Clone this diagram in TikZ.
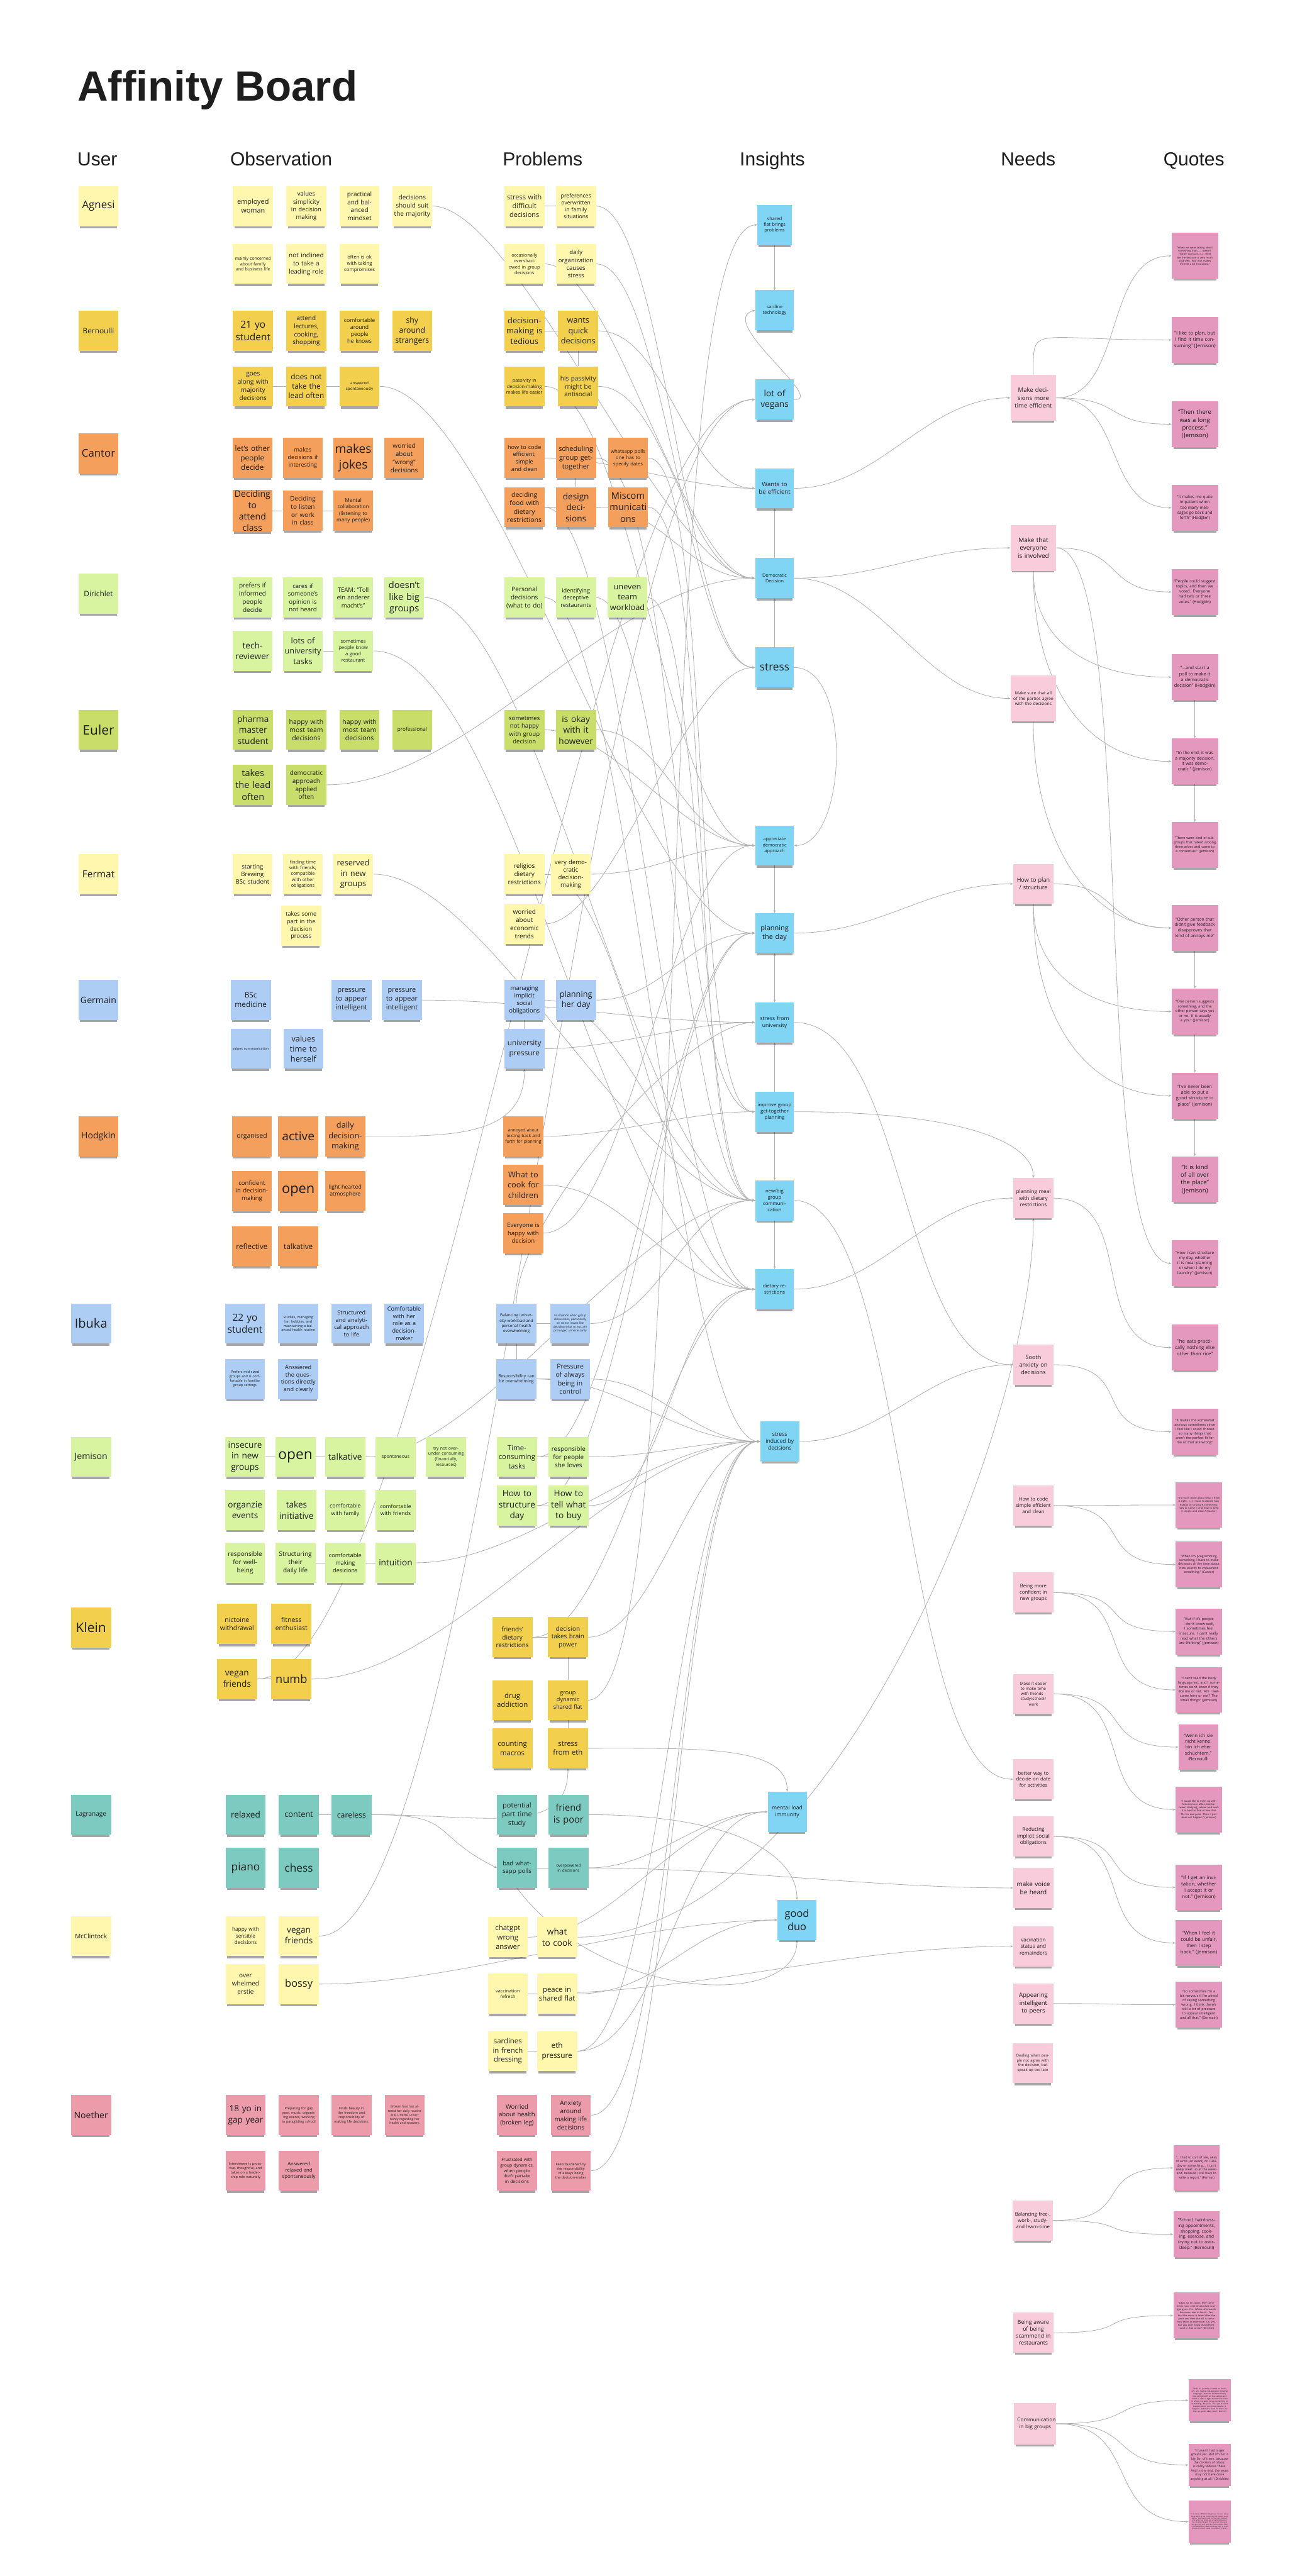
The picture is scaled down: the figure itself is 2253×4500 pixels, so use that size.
\documentclass[tikz,border=0pt]{standalone}
\usepackage{fontspec}
\setmainfont{Open Sans}
\newfontfamily\headfont{Liberation Sans}
\usetikzlibrary{arrows.meta,shadows,backgrounds}

\definecolor{paleY}{HTML}{FFF7AE}
\definecolor{goldY}{HTML}{F2D04E}
\definecolor{orng}{HTML}{F4A05C}
\definecolor{paleG}{HTML}{D8F4A1}
\definecolor{oliveG}{HTML}{C8DD6A}
\definecolor{skyB}{HTML}{ADCDF4}
\definecolor{turq}{HTML}{7CCAC0}
\definecolor{roseP}{HTML}{EB9BAA}
\definecolor{insC}{HTML}{80D5F5}
\definecolor{needC}{HTML}{F9CCDC}
\definecolor{quoteC}{HTML}{E598BE}
\definecolor{wire}{HTML}{B0B0B0}
\definecolor{ink}{HTML}{1E1E1E}

\newcommand\nfs[1]{\fontsize{#1}{\fpeval{1.28*#1}}\selectfont}

\tikzset{
  note/.style={minimum width=70pt, minimum height=70pt, text width=64pt, inner sep=1pt,
    align=center, text=ink,
    drop shadow={shadow xshift=0pt, shadow yshift=-7pt, shadow scale=0.92, opacity=0.35, fill=black}},
  fs/.style={font=\nfs{#1}},
  stPaleY/.style={note, fill=paleY},
  stGold/.style={note, fill=goldY},
  stOrange/.style={note, fill=orng},
  stPaleG/.style={note, fill=paleG},
  stOlive/.style={note, fill=oliveG},
  stSky/.style={note, fill=skyB},
  stTurq/.style={note, fill=turq},
  stRose/.style={note, fill=roseP},
  insight/.style={note, fill=insC, minimum width=68pt, text width=62pt},
  need/.style={note, fill=needC, text width=62pt},
  bigneed/.style={need, minimum width=80pt, minimum height=80pt, text width=72pt},
  quote/.style={note, fill=quoteC, minimum width=81pt, minimum height=80pt, text width=74pt},
  hdr/.style={anchor=base west, inner sep=0pt, font=\headfont\fontsize{33}{36}\selectfont, text=ink},
  link/.style={draw=wire, line width=0.9pt},
  arr/.style={link, -{Stealth[length=5pt,width=4pt]}},
  hcurve/.style={to path={.. controls +(#1,0) and +(-#1,0) .. (\tikztotarget) \tikztonodes}},
  hcurve/.default=100,
  vcurve/.style={to path={.. controls +(0,#1) and +(0,-#1) .. (\tikztotarget) \tikztonodes}},
  vcurve/.default=30
}

\begin{document}
\begin{tikzpicture}[x=1pt, y=-1pt]
\path[use as bounding box] (0,0) rectangle (2253,4500);

\node[anchor=base west, inner sep=0pt, font=\headfont\bfseries\fontsize{74}{80}\selectfont, text=ink] (title) at (135,176) {Affinity Board};
\node[hdr] (hUser) at (135,290) {User};
\node[hdr] (hObs) at (402,290) {Observation};
\node[hdr] (hProb) at (878,290) {Problems};
\node[hdr] (hIns) at (1292,290) {Insights};
\node[hdr] (hNeed) at (1748,290) {Needs};
\node[hdr] (hQuote) at (2032,290) {Quotes};

% Agnesi
\node[stPaleY, fs=18.5] (uAg) at (172,360) {Agnesi};
\node[stPaleY, fs=12] (agO1) at (442,360) {employed woman};
\node[stPaleY, fs=10.5] (agO2) at (535,360) {values simplicity in decision making};
\node[stPaleY, fs=11] (agO3) at (628,360) {practical and balanced mindset};
\node[stPaleY, fs=11] (agO4) at (720,360) {decisions should suit the majority};
\node[stPaleY, fs=7.5] (agO5) at (442,461) {mainly concerned about family and business life};
\node[stPaleY, fs=11] (agO6) at (535,461) {not inclined to take a leading role};
\node[stPaleY, fs=8.5] (agO7) at (628,461) {often is ok with taking compromises};
\node[stPaleY, fs=12] (agP1) at (916,360) {stress with difficult decisions};
\node[stPaleY, fs=9.5] (agP2) at (1006,360) {preferences overwritten in family situations};
\node[stPaleY, fs=8] (agP3) at (916,461) {occasionally overshadowed in group decisions};
\node[stPaleY, fs=10.5] (agP4) at (1006,461) {daily organization causes stress};

% Bernoulli
\node[stGold, fs=13] (uBe) at (172,578) {Bernoulli};
\node[stGold, fs=17] (beO1) at (442,578) {21 yo student};
\node[stGold, fs=11] (beO2) at (535,578) {attend lectures, cooking, shopping};
\node[stGold, fs=9.5] (beO3) at (628,578) {comfortable around people he knows};
\node[stGold, fs=13.5] (beO4) at (720,578) {shy around strangers};
\node[stGold, fs=11] (beO5) at (442,675) {goes along with majority decisions};
\node[stGold, fs=13] (beO6) at (535,675) {does not take the lead often};
\node[stGold, fs=7] (beO7) at (628,675) {answered spontaneously};
\node[stGold, fs=14] (beP1) at (916,578) {decision-making is tedious};
\node[stGold, fs=14] (beP2) at (1010,578) {wants quick decisions};
\node[stGold, fs=8] (beP3) at (916,675) {passivity in decision-making makes life easier};
\node[stGold, fs=11] (beP4) at (1010,675) {his passivity might be antisocial};

% Cantor
\node[stOrange, fs=18.5] (uCa) at (172,792) {Cantor};
\node[stOrange, fs=13] (caO1) at (441,800) {let's other people decide};
\node[stOrange, fs=10] (caO2) at (529,800) {makes decisions if interesting};
\node[stOrange, fs=21] (caO3) at (617,800) {makes jokes};
\node[stOrange, fs=11] (caO4) at (706,800) {worried about “wrong” decisions};
\node[stOrange, fs=15.5] (caO5) at (441,892) {Deciding to attend class};
\node[stOrange, fs=11] (caO6) at (529,892) {Deciding to listen or work in class};
\node[stOrange, fs=9] (caO7) at (617,892) {Mental collaboration (listening to many people)};
\node[stOrange, fs=10] (caP1) at (916,800) {how to code efficient, simple and clean};
\node[stOrange, fs=12] (caP2) at (1006,800) {scheduling group get-together};
\node[stOrange, fs=8.5] (caP3) at (1097,800) {whatsapp polls one has to specify dates};
\node[stOrange, fs=11.5] (caP4) at (916,886) {deciding food with dietary restrictions};
\node[stOrange, fs=15] (caP5) at (1006,886) {design decisions};
\node[stOrange, fs=16] (caP6) at (1097,886) {Miscom\\municati\\ons};

% Dirichlet
\node[stPaleG, fs=13] (uDi) at (172,1037) {Dirichlet};
\node[stPaleG, fs=11] (diO1) at (441,1044) {prefers if informed people decide};
\node[stPaleG, fs=10.5] (diO2) at (529,1044) {cares if someone's opinion is not heard};
\node[stPaleG, fs=10.5] (diO3) at (617,1044) {TEAM: "Toll ein anderer macht's"};
\node[stPaleG, fs=16] (diO4) at (706,1044) {doesn't like big groups};
\node[stPaleG, fs=15] (diO5) at (441,1137) {tech-\\reviewer};
\node[stPaleG, fs=14] (diO6) at (529,1137) {lots of university tasks};
\node[stPaleG, fs=8.5] (diO7) at (617,1137) {sometimes people know a good restaurant};
\node[stPaleG, fs=11] (diP1) at (916,1044) {Personal decisions (what to do)};
\node[stPaleG, fs=10] (diP2) at (1006,1044) {identifying deceptive restaurants};
\node[stPaleG, fs=14] (diP3) at (1096,1044) {uneven team workload};

% Euler
\node[stOlive, fs=23] (uEu) at (172,1275) {Euler};
\node[stOlive, fs=15] (euO1) at (442,1275) {pharma master student};
\node[stOlive, fs=11.5] (euO2) at (535,1275) {happy with most team decisions};
\node[stOlive, fs=11.5] (euO3) at (628,1275) {happy with most team decisions};
\node[stOlive, fs=9] (euO4) at (720,1275) {professional};
\node[stOlive, fs=16] (euO5) at (442,1371) {takes the lead often};
\node[stOlive, fs=11] (euO6) at (535,1371) {democratic approach applied often};
\node[stOlive, fs=10.5] (euP1) at (916,1275) {sometimes not happy with group decision};
\node[stOlive, fs=15] (euP2) at (1006,1275) {is okay with it however};

% Fermat
\node[stPaleY, fs=17] (uFe) at (172,1527) {Fermat};
\node[stPaleY, fs=10.5] (feO1) at (441,1527) {starting Brewing BSc student};
\node[stPaleY, fs=8] (feO2) at (529,1527) {finding time with friends, compatible with other obligations};
\node[stPaleY, fs=14] (feO3) at (617,1527) {reserved in new groups};
\node[stPaleY, fs=10] (feO4) at (526,1617) {takes some part in the decision process};
\node[stPaleY, fs=11] (feP1) at (916,1527) {religios dietary restrictions};
\node[stPaleY, fs=10.5] (feP2) at (997,1527) {very democratic decision-making};
\node[stPaleY, fs=11] (feP3) at (916,1614) {worried about economic trends};

% Germain
\node[stSky, fs=15.5] (uGe) at (172,1747) {Germain};
\node[stSky, fs=13] (geO1) at (438,1747) {BSc medicine};
\node[stSky, fs=12] (geO2) at (614,1747) {pressure to appear intelligent};
\node[stSky, fs=12] (geO3) at (702,1747) {pressure to appear intelligent};
\node[stSky, fs=6] (geO4) at (438,1832) {values communication};
\node[stSky, fs=14] (geO5) at (530,1832) {values time to herself};
\node[stSky, fs=10.5] (geP1) at (916,1747) {managing implicit social obligations};
\node[stSky, fs=14] (geP2) at (1006,1747) {planning her day};
\node[stSky, fs=13] (geP3) at (916,1832) {university pressure};

% Hodgkin
\node[stOrange, fs=15.5] (uHo) at (172,1985) {Hodgkin};
\node[stOrange, fs=11.5] (hoO1) at (440,1985) {organised};
\node[stOrange, fs=21] (hoO2) at (521,1985) {active};
\node[stOrange, fs=14] (hoO3) at (603,1985) {daily decision-making};
\node[stOrange, fs=10.5] (hoO4) at (440,2081) {confident in decision-making};
\node[stOrange, fs=24] (hoO5) at (521,2081) {open};
\node[stOrange, fs=9.5] (hoO6) at (603,2081) {light-hearted atmosphere};
\node[stOrange, fs=13] (hoO7) at (440,2177) {reflective};
\node[stOrange, fs=13] (hoO8) at (521,2177) {talkative};
\node[stOrange, fs=7.5] (hoP1) at (914,1985) {annoyed about texting back and forth for planning};
\node[stOrange, fs=14] (hoP2) at (914,2070) {What to cook for children};
\node[stOrange, fs=10.5] (hoP3) at (914,2154) {Everyone is happy with decision};

% Ibuka
\node[stSky, fs=22] (uIb) at (159,2312) {Ibuka};
\node[stSky, fs=17] (ibO1) at (428,2312) {22 yo student};
\node[stSky, fs=6] (ibO2) at (521,2312) {Studies, managing her hobbies, and maintaining a balanced health routine};
\node[stSky, fs=10] (ibO3) at (614,2312) {Structured and analytical approach to life};
\node[stSky, fs=10] (ibO4) at (706,2312) {Comfortable with her role as a decision-maker};
\node[stSky, fs=6] (ibO5) at (428,2409) {Prefers mid-sized groups and is comfortable in familiar group settings};
\node[stSky, fs=10] (ibO6) at (521,2409) {Answered the questions directly and clearly};
\node[stSky, fs=7] (ibP1) at (902,2312) {Balancing university workload and personal health overwhelming};
\node[stSky, fs=5] (ibP2) at (996,2312) {Frustration when group discussions, particularly on minor issues like deciding what to eat, are prolonged unnecessarily};
\node[stSky, fs=7.5] (ibP3) at (902,2409) {Responsibility can be overwhelming};
\node[stSky, fs=11.5] (ibP4) at (996,2409) {Pressure of always being in control};

% Jemison
\node[stPaleG, fs=15.5] (uJe) at (159,2545) {Jemison};
\node[stPaleG, fs=15] (jeO1) at (428,2545) {insecure in new groups};
\node[stPaleG, fs=25] (jeO2) at (516,2545) {open};
\node[stPaleG, fs=15] (jeO3) at (603,2545) {talkative};
\node[stPaleG, fs=8] (jeO4) at (691,2545) {spontaneous};
\node[stPaleG, fs=7.5] (jeO5) at (779,2545) {try not over-under consuming (financially, resources)};
\node[stPaleG, fs=15] (jeO6) at (428,2638) {organzie events};
\node[stPaleG, fs=15] (jeO7) at (518,2638) {takes initiative};
\node[stPaleG, fs=9.5] (jeO8) at (603,2638) {comfortable with family};
\node[stPaleG, fs=9.5] (jeO9) at (691,2638) {comfortable with friends};
\node[stPaleG, fs=11] (jeO10) at (428,2730) {responsible for well-being};
\node[stPaleG, fs=11] (jeO11) at (516,2730) {Structuring their daily life};
\node[stPaleG, fs=10] (jeO12) at (603,2730) {comfortable making desicions};
\node[stPaleG, fs=15] (jeO13) at (691,2730) {intuition};
\node[stPaleG, fs=12.5] (jeP1) at (903,2545) {Time-consuming tasks};
\node[stPaleG, fs=11] (jeP2) at (993,2545) {responsible for people she loves};
\node[stPaleG, fs=15] (jeP3) at (903,2630) {How to structure day};
\node[stPaleG, fs=15] (jeP4) at (993,2630) {How to tell what to buy};

% Klein
\node[stGold, fs=23] (uKl) at (159,2843) {Klein};
\node[stGold, fs=11.5] (klO1) at (414,2837) {nictoine withdrawal};
\node[stGold, fs=11.5] (klO2) at (509,2837) {fitness enthusiast};
\node[stGold, fs=15] (klO3) at (414,2933) {vegan friends};
\node[stGold, fs=20] (klO4) at (509,2933) {numb};
\node[stGold, fs=11] (klP1) at (895,2860) {friends' dietary restrictions};
\node[stGold, fs=11] (klP2) at (992,2860) {decision takes brain power};
\node[stGold, fs=12.5] (klP3) at (895,2970) {drug addiction};
\node[stGold, fs=10] (klP4) at (992,2970) {group dynamic shared flat};
\node[stGold, fs=12.5] (klP5) at (895,3054) {counting macros};
\node[stGold, fs=12.5] (klP6) at (992,3054) {stress from eth};

% Lagrange
\node[stTurq, fs=11] (uLa) at (159,3170) {Lagranage};
\node[stTurq, fs=15] (laO1) at (429,3170) {relaxed};
\node[stTurq, fs=14] (laO2) at (522,3170) {content};
\node[stTurq, fs=13.5] (laO3) at (614,3170) {careless};
\node[stTurq, fs=19] (laO4) at (429,3263) {piano};
\node[stTurq, fs=19] (laO5) at (522,3263) {chess};
\node[stTurq, fs=12] (laP1) at (903,3170) {potential part time study};
\node[stTurq, fs=16] (laP2) at (993,3170) {friend is poor};
\node[stTurq, fs=10.5] (laP3) at (903,3263) {bad whatsapp polls};
\node[stTurq, fs=7] (laP4) at (993,3263) {overpowered in decisions};

% McClintock
\node[stPaleY, fs=11] (uMc) at (159,3382) {McClintock};
\node[stPaleY, fs=9] (mcO1) at (429,3382) {happy with sensible decisions};
\node[stPaleY, fs=15] (mcO2) at (522,3382) {vegan friends};
\node[stPaleY, fs=11] (mcO3) at (429,3466) {over whelmed erstie};
\node[stPaleY, fs=18] (mcO4) at (522,3466) {bossy};
\node[stPaleY, fs=12.5] (mcP1) at (887,3384) {chatgpt wrong answer};
\node[stPaleY, fs=15] (mcP2) at (973,3384) {what to cook};
\node[stPaleY, fs=8] (mcP3) at (887,3483) {vaccination refresh};
\node[stPaleY, fs=12.5] (mcP4) at (973,3483) {peace in shared flat};
\node[stPaleY, fs=12.5] (mcP5) at (887,3583) {sardines in french dressing};
\node[stPaleY, fs=13] (mcP6) at (973,3583) {eth pressure};

% Noether
\node[stRose, fs=15.5] (uNo) at (159,3695) {Noether};
\node[stRose, fs=15] (noO1) at (429,3695) {18 yo in gap year};
\node[stRose, fs=6] (noO2) at (522,3695) {Preparing for gap year, music, organising events, working in paragliding school};
\node[stRose, fs=6] (noO3) at (614,3695) {Finds beauty in the freedom and responsibility of making life decisions.};
\node[stRose, fs=5.5] (noO4) at (707,3695) {Broken foot has altered her daily routine and created uncertainty regarding her health and recovery.};
\node[stRose, fs=6] (noO5) at (429,3792) {Interviewee is proactive, thoughtful, and takes on a leadership role naturally};
\node[stRose, fs=8.5] (noO6) at (522,3792) {Answered relaxed and spontaneously};
\node[stRose, fs=10.5] (noP1) at (903,3695) {Worried about health (broken leg)};
\node[stRose, fs=11] (noP2) at (997,3695) {Anxiety around making life decisions};
\node[stRose, fs=7.5] (noP3) at (903,3792) {Frustrated with group dynamics, when people don't partake in decisions};
\node[stRose, fs=6] (noP4) at (997,3792) {Feels burdened by the responsibility of always being the decision-maker};

% Insights
\node[insight, fs=8, minimum width=60pt, text width=56pt] (iShared) at (1353,393) {shared flat brings problems};
\node[insight, fs=8] (iSardine) at (1353,542) {sardine technology};
\node[insight, fs=15] (iVegans) at (1353,698) {lot of vegans};
\node[insight, fs=10.5] (iWants) at (1353,853) {Wants to be efficient};
\node[insight, fs=8] (iDemo) at (1353,1010) {Democratic Decision};
\node[insight, fs=19] (iStress) at (1353,1166) {stress};
\node[insight, fs=8] (iAppr) at (1353,1477) {appreciate democratic approach};
\node[insight, fs=12] (iPlan) at (1353,1630) {planning the day};
\node[insight, fs=9.5] (iUni) at (1353,1786) {stress from university};
\node[insight, fs=8.5] (iImprove) at (1353,1942) {improve group get-together planning};
\node[insight, fs=8.5] (iGroup) at (1353,2097) {new/big\\group\\communi-\\cation};
\node[insight, fs=8.5] (iDiet) at (1353,2252) {dietary restrictions};
\node[insight, fs=9.5] (iInduced) at (1362,2518) {stress induced by decisions};
\node[insight, fs=9.5] (iMental) at (1375,3165) {mental load immunity};
\node[insight, fs=18] (iDuo) at (1392,3354) {good duo};

% Needs
\node[bigneed, fs=10.5] (nEff) at (1805,695) {Make decisions more time efficient};
\node[bigneed, fs=11] (nInv) at (1805,957) {Make that everyone is involved};
\node[bigneed, fs=7.5] (nAgree) at (1805,1220) {Make sure that all of the parties agree with the decisions};
\node[need, fs=10] (nPlan) at (1805,1544) {How to plan / structure};
\node[need, fs=9] (nMeal) at (1805,2093) {planning meal with dietary restrictions};
\node[need, fs=10] (nSooth) at (1805,2384) {Sooth anxiety on decisions};
\node[need, fs=8.5] (nCode) at (1805,2630) {How to code simple efficient and clean};
\node[need, fs=8.5] (nConf) at (1805,2782) {Being more confident in new groups};
\node[need, fs=7] (nFriends) at (1805,2959) {Make it easier to make time with friends - study/school/ work};
\node[need, fs=8.5] (nDate) at (1805,3108) {better way to decide on date for activities};
\node[need, fs=9] (nOblig) at (1805,3208) {Reducing implicit social obligations};
\node[need, fs=11] (nVoice) at (1805,3298) {make voice be heard};
\node[need, fs=9] (nVacc) at (1805,3400) {vacination status and remainders};
\node[need, fs=10.5] (nIntel) at (1805,3500) {Appearing intelligent to peers};
\node[need, fs=6.5] (nLate) at (1804,3604) {Dealing when people not agree with the decision, but speak up too late};
\node[need, fs=8.5] (nBal) at (1804,3879) {Balancing free-, work-, study- and learn-time};
\node[need, fs=9.5] (nScam) at (1805,4075) {Being aware of being scammend in restaurants};
\node[need, fs=9, minimum width=73pt, minimum height=73pt] (nBig) at (1808,4234) {Communication in big groups};

% Quotes
\node[quote, fs=4.5] (q1) at (2087,447) {"When we were talking about something that [...] doesn't matter so much, [...] I feel like the decision is very much polarized. And that makes me feel a bit frustrated."};
\node[quote, fs=8.5] (q2) at (2087,594) {"I like to plan, but I find it time consuming" (Jemison)};
\node[quote, fs=10.5] (q3) at (2087,741) {"Then there was a long process." (Jemison)};
\node[quote, fs=7] (q4) at (2087,887) {"It makes me quite impatient when too many messages go back and forth" (Hodgkin)};
\node[quote, fs=7] (q5) at (2087,1034) {"People could suggest topics, and then we voted. Everyone had two or three votes." (Hodgkin)};
\node[quote, fs=8] (q6) at (2087,1183) {"...and start a poll to make it a democratic decision" (Hodgkin)};
\node[quote, fs=7.5] (q7) at (2087,1330) {"In the end, it was a majority decision. It was democratic." (Jemison)};
\node[quote, fs=6] (q8) at (2087,1476) {"There were kind of subgroups that talked among themselves and came to a consensus." (Jemison)};
\node[quote, fs=7.5] (q9) at (2087,1621) {"Other person that didn't give feedback disapproves that kind of annoys me"};
\node[quote, fs=6.5] (q10) at (2087,1767) {"One person suggests something, and the other person says yes or no. It is usually a yes." (Jemison)};
\node[quote, fs=8] (q11) at (2087,1914) {"I've never been able to put a good structure in place" (Jemison)};
\node[quote, fs=10.5] (q12) at (2087,2060) {"It is kind of all over the place" (Jemison)};
\node[quote, fs=7] (q13) at (2087,2207) {"How I can structure my day, whether it is meal planning or when I do my laundry" (Jemison)};
\node[quote, fs=8.5] (q14) at (2087,2354) {"he eats practically nothing else other than rice"};
\node[quote, fs=6] (q15) at (2087,2501) {"It makes me somewhat anxious sometimes since I feel like I could choose so many things that aren't the perfect fit for me or that are wrong"};
\node[quote, fs=4.5] (q16) at (2094,2629) {"It's much more about what I think is right. [...] I have to decide how exactly to structure something, how to name it and how to keep it simple and clean." (Cantor)};
\node[quote, fs=5.5] (q17) at (2094,2733) {"When I'm programming something, I have to make decisions all the time about how exactly to implement something." (Cantor)};
\node[quote, fs=6.5] (q18) at (2094,2850) {"But if it's people I don't know well, I sometimes feel insecure. I can't really read what the others are thinking" (Jemison)};
\node[quote, fs=6] (q19) at (2094,2952) {"I can't read the body language yet, and I sometimes don't know if they like me or not. Am I welcome here or not? The small things" (Jemison)};
\node[quote, fs=8, minimum width=69pt, text width=64pt] (q20) at (2093,3052) {"Wenn ich sie nicht kenne, bin ich eher schüchtern." -Bernoulli};
\node[quote, fs=4.5] (q21) at (2094,3161) {"I would like to meet up with friends more often, but between studying, school and work it is hard to find a time that fits for everyone. Then it just does not happen." (Jemison)};
\node[quote, fs=8.5] (q22) at (2094,3297) {"If I get an invitation, whether I accept it or not." (Jemison)};
\node[quote, fs=8.5] (q23) at (2094,3394) {"When I feel it could be unfair, then I step back." (Jemison)};
\node[quote, fs=6] (q24) at (2094,3502) {"So sometimes I'm a bit nervous if I'm afraid of saying something wrong. I think there's still a lot of pressure to appear intelligent and all that." (Germain)};
\node[quote, fs=5.5] (q25) at (2090,3787) {"...I had to sort of see, okay I'll write [an exam] on Tuesday or something... I can't really meet up at the weekend, because I still have to write a report." (Fermat)};
\node[quote, fs=7.5] (q26) at (2090,3903) {"School, hairdressing appointments, shopping, cooking, exercise, and trying not to oversleep." (Bernoulli)};
\node[quote, fs=4.3] (q27) at (2090,4045) {"Okay, so in Lisbon, they sometimes have a bit of absolute scam going on. Yes. Where afterwards the menu was at least... Yes, that the menu is listed after the price and then the bill is somehow twice as expensive. Oh, yes. But you can't know that beforehand in that sense." (Dirichlet)};
\node[quote, fs=3.5, minimum width=74pt, minimum height=74pt, text width=68pt] (q28) at (2113,4193) {"Yeah, it's just the, it takes so much, um, um, mental collaboration (original language: 'mentale Kollaboration'), like, comply with all the sayings and come in after a right moment to start in when you want to say something or something. Ah yeah. That just doesn't happen when you know people. It happens less there. And it's more like that, so, yeah, okay, yeah." (Cantor)};
\node[quote, fs=5.5, minimum width=74pt, minimum height=74pt, text width=68pt] (q29) at (2113,4306) {"I haven't had larger groups yet. But I'm not a big fan of them, because the division of labour is really tedious there. And in the end, the yeast may not have done anything at all." (Dirichlet)};
\node[quote, fs=2.8, minimum width=74pt, minimum height=74pt, text width=68pt] (q30) at (2113,4405) {"It is always difficult in big groups, because everybody wants to say something and nobody really listens. You have to wait for the right moment, and when you finally say something the topic has already changed. Then you just stay quiet and go along with what the others decide, even if you would have liked something else. In small groups it is much easier to be heard." (Cantor)};

\begin{scope}[on background layer]
\fill[white] (0,0) rectangle (2253,4500);
% short links inside the rows
\draw[link] (agP1) -- (agP2);
\draw[link] (beO5) -- (beO6) -- (beO7);
\draw[link] (beP1) -- (beP2);
\draw[link] (beP2) -- (beP4);
\draw[link] (caO5) -- (caO6) -- (caO7);
\draw[link] (caP4) -- (caP5);
\draw[link] (caP2) -- (caP5);
\draw[link] (diO6) -- (diO7);
\draw[link, dotted] (euP1) -- (euP2);
\draw[link] (feP1) -- (feP2);
\draw[link] (geP1) -- (geP3);
\draw[link] (ibP1) -- (ibP2);
\draw[link] (ibP3) -- (ibP4);
\draw[link] (ibP1) -- (ibP3);
\draw[link] (jeO1) -- (jeO2) -- (jeO3);
\draw[link] (jeO11) -- (jeO12) -- (jeO13);
\draw[link] (jeP1) -- (jeP2);
\draw[link] (jeP3) -- (jeP4);
\draw[link] (klO3) -- (klO4);
\draw[link] (klP1) -- (klP2);
\draw[link] (klP2) -- (klP4) -- (klP6);
\draw[link] (laO2) -- (laO3);
\draw[link] (laP3) -- (laP4);
\draw[link] (mcP3) -- (mcP4);
\draw[link] (mcP5) -- (mcP6);
% observations and problems to insights
\draw[arr] (agO4.east) to[hcurve=150] (iDemo.west);
\draw[arr] (agP2.east) to[hcurve=120] (iStress.west);
\draw[arr] (agP4.east) to[hcurve=120] (iStress.west);
\draw[arr] (agP3.east) to[hcurve=120] (iDemo.west);
\draw[arr] (beP2.east) to[hcurve=120] (iWants.west);
\draw[arr] (beO7.east) to[hcurve=200] (iPlan.west);
\draw[arr] (beP3.east) to[hcurve=150] (iAppr.west);
\draw[arr] (beP4.east) to[hcurve=120] (iDemo.west);
\draw[arr] (caP1.east) to[hcurve=120] (iWants.west);
\draw[arr] (caP2.east) to[hcurve=150] (iImprove.west);
\draw[arr] (caP3.east) to[hcurve=120] (iImprove.west);
\draw[arr] (caP4.east) to[hcurve=150] (iDiet.west);
\draw[arr] (caP5.east) to[hcurve=120] (iDemo.west);
\draw[arr] (caP6.east) to[hcurve=120] (iGroup.west);
\draw[arr] (diO4.east) to[hcurve=200] (iGroup.west);
\draw[arr] (diO7.east) to[hcurve=250] (iDiet.west);
\draw[arr] (diP1.east) to[hcurve=150] (iInduced.west);
\draw[arr] (diP2.east) to[hcurve=120] (iGroup.west);
\draw[arr] (diP3.east) to[hcurve=100] (iGroup.west);
\draw[arr] (euO6.east) to[hcurve=250] (iDemo.west);
\draw[arr] (euP1.east) to[hcurve=120] (iAppr.west);
\draw[arr] (euP2.east) to[hcurve=120] (iAppr.west);
\draw[arr] (feO3.east) to[hcurve=200] (iGroup.west);
\draw[arr] (feP1.east) to[hcurve=150] (iDiet.west);
\draw[arr] (feP2.east) to[hcurve=120] (iAppr.west);
\draw[arr] (feP3.east) to[hcurve=120] (iStress.west);
\draw[arr] (geO3.east) to[hcurve=200] (iUni.west);
\draw[arr] (geP1.east) to[hcurve=150] (iGroup.west);
\draw[arr] (geP2.east) to[hcurve=120] (iPlan.west);
\draw[arr] (geP3.east) to[hcurve=120] (iUni.west);
\draw[arr] (hoO3.east) .. controls +(150,0) and +(0,120) .. (geP3.south);
\draw[arr] (hoP1.east) to[hcurve=120] (iImprove.west);
\draw[arr] (hoP2.east) to[hcurve=150] (iDiet.west);
\draw[arr] (hoP3.east) to[hcurve=150] (iAppr.west);
\draw[arr] (ibP1.north) .. controls +(0,-150) and +(-120,0) .. (iUni.west);
\draw[arr] (ibP2.east) to[hcurve=120] (iGroup.west);
\draw[arr] (ibP3.east) to[hcurve=150] (iInduced.west);
\draw[arr] (ibP4.east) to[hcurve=120] (iInduced.west);
\draw[arr] (jeO3.east) to[hcurve=200] (iGroup.west);
\draw[arr] (jeO13.east) to[hcurve=200] (iInduced.west);
\draw[arr] (jeP1.east) to[hcurve=150] (iPlan.west);
\draw[arr] (jeP2.east) to[hcurve=120] (iInduced.west);
\draw[arr] (jeP3.east) to[hcurve=150] (iPlan.west);
\draw[arr] (jeP4.east) to[hcurve=150] (iDiet.west);
\draw[arr] (klO4.east) to[hcurve=250] (iInduced.west);
\draw[arr] (klP1.east) to[hcurve=150] (iDiet.west);
\draw[arr] (klP2.east) to[hcurve=120] (iInduced.west);
\draw[arr] (klP4.east) to[hcurve=200] (iShared.west);
\draw[arr] (klP6.east) .. controls +(200,0) and +(0,-80) .. (iMental.north);
\draw[arr] (laO3.east) .. controls +(200,0) and +(0,120) .. (klP6.south);
\draw[arr] (laO3.east) .. controls +(150,0) and +(-120,-60) .. (laP3.west);
\draw[arr] (laP2.east) .. controls +(250,0) and +(0,-80) .. (iDuo.north);
\draw[arr] (laP3.south) .. controls +(150,200) and +(0,120) .. (iDuo.south);
\draw[arr] (laP4.east) to[hcurve=250] (nVoice.west);
\draw[arr] (laP4.east) to[hcurve=120] (iMental.west);
\draw[arr] (klO3.east) to[hcurve=300] (iVegans.west);
\draw[arr] (mcO2.east) to[hcurve=300] (iVegans.west);
\draw[arr] (mcO4.east) to[hcurve=250] (iDuo.west);
\draw[arr] (mcP1.east) to[hcurve=150] (iMental.west);
\draw[arr] (mcP2.east) .. controls +(450,0) and +(0,350) .. (nMeal.south);
\draw[arr] (mcP3.east) to[hcurve=300] (nVacc.west);
\draw[arr] (mcP4.east) to[hcurve=150] (iDuo.west);
\draw[arr] (mcP6.east) to[hcurve=150] (iMental.west);
\draw[arr] (mcP6.east) to[hcurve=150] (iInduced.west);
\draw[arr] (noP2.east) to[hcurve=150] (iInduced.west);
\draw[arr] (noP4.east) to[hcurve=150] (iInduced.west);
% between insights
\draw[arr] (iShared.south) -- (iSardine.north);
\draw[arr] (iVegans.east) .. controls (1445,700) and (1250,560) .. (iSardine.west);
\draw[arr] (iDemo.north) -- (iWants.south);
\draw[arr] (iStress.north) -- (iDemo.south);
\draw[arr] (iStress.east) .. controls (1490,1166) and (1480,1477) .. (iAppr.east);
\draw[arr] (iAppr.south) -- (iPlan.north);
\draw[{Stealth[length=5pt,width=4pt]}-{Stealth[length=5pt,width=4pt]}, link] (iPlan.south) -- (iUni.north);
\draw[arr] (iImprove.north) -- (iUni.south);
\draw[arr] (iImprove.south) -- (iGroup.north);
\draw[arr] (iGroup.south) -- (iDiet.north);
% insights to needs
\draw[arr] (iWants.east) to[hcurve=150] (nEff.west);
\draw[arr] (iDemo.east) to[hcurve=150] (nInv.west);
\draw[arr] (iDemo.east) to[hcurve=150] (nAgree.west);
\draw[arr] (iPlan.east) to[hcurve=150] (nPlan.west);
\draw[arr] (iImprove.east) .. controls +(300,0) and +(0,-60) .. (nMeal.north);
\draw[arr] (iDiet.east) to[hcurve=150] (nMeal.west);
\draw[arr] (iUni.east) to[hcurve=200] (nSooth.west);
\draw[arr] (iInduced.east) to[hcurve=150] (nSooth.west);
\draw[arr] (iGroup.east) to[hcurve=200] (nDate.west);
% needs to quotes
\draw[arr] (nEff.east) to[hcurve=120] (q1.west);
\draw[arr] (nEff.north) .. controls +(0,-90) and +(-250,0) .. (q2.west);
\draw[arr] (nEff.east) to[hcurve=120] (q3.west);
\draw[arr] (nEff.east) to[hcurve=120] (q4.west);
\draw[arr] (nInv.east) to[hcurve=120] (q5.west);
\draw[arr] (nInv.south) .. controls +(0,120) and +(-150,0) .. (q6.west);
\draw[arr] (nInv.south) .. controls +(0,200) and +(-150,0) .. (q7.west);
\draw[arr] (nInv.east) .. controls (1990,960) and (1900,2200) .. (q13.west);
\draw[arr] (nAgree.south) .. controls +(0,200) and +(-150,0) .. (q9.west);
\draw[arr] (nPlan.east) to[hcurve=120] (q9.west);
\draw[arr] (nPlan.south) .. controls +(0,120) and +(-150,0) .. (q10.west);
\draw[arr] (nPlan.south) .. controls +(0,200) and +(-150,0) .. (q11.west);
\draw[arr] (q6.south) to[vcurve] (q7.north);
\draw[arr] (q7.south) to[vcurve] (q8.north);
\draw[arr] (q9.south) to[vcurve] (q10.north);
\draw[arr] (q10.south) to[vcurve] (q11.north);
\draw[arr] (q11.south) to[vcurve] (q12.north);
\draw[arr] (nMeal.east) to[hcurve=150] (q14.west);
\draw[arr] (nSooth.east) to[hcurve=150] (q15.west);
\draw[arr] (nCode.east) to[hcurve=150] (q16.west);
\draw[arr] (nCode.east) to[hcurve=150] (q17.west);
\draw[arr] (nConf.east) to[hcurve=150] (q18.west);
\draw[arr] (nConf.east) to[hcurve=150] (q19.west);
\draw[arr] (nFriends.east) to[hcurve=150] (q20.west);
\draw[arr] (nFriends.east) to[hcurve=150] (q21.west);
\draw[arr] (nOblig.east) to[hcurve=150] (q22.west);
\draw[arr] (nOblig.east) to[hcurve=150] (q23.west);
\draw[arr] (nIntel.east) to[hcurve=150] (q24.west);
\draw[arr] (nBal.east) to[hcurve=150] (q25.west);
\draw[arr] (nBal.east) to[hcurve=150] (q26.west);
\draw[arr] (nScam.east) to[hcurve=150] (q27.west);
\draw[arr] (nBig.east) to[hcurve=150] (q28.west);
\draw[arr] (nBig.east) to[hcurve=150] (q29.west);
\draw[arr] (nBig.east) to[hcurve=150] (q30.west);
\end{scope}
\end{tikzpicture}
\end{document}
